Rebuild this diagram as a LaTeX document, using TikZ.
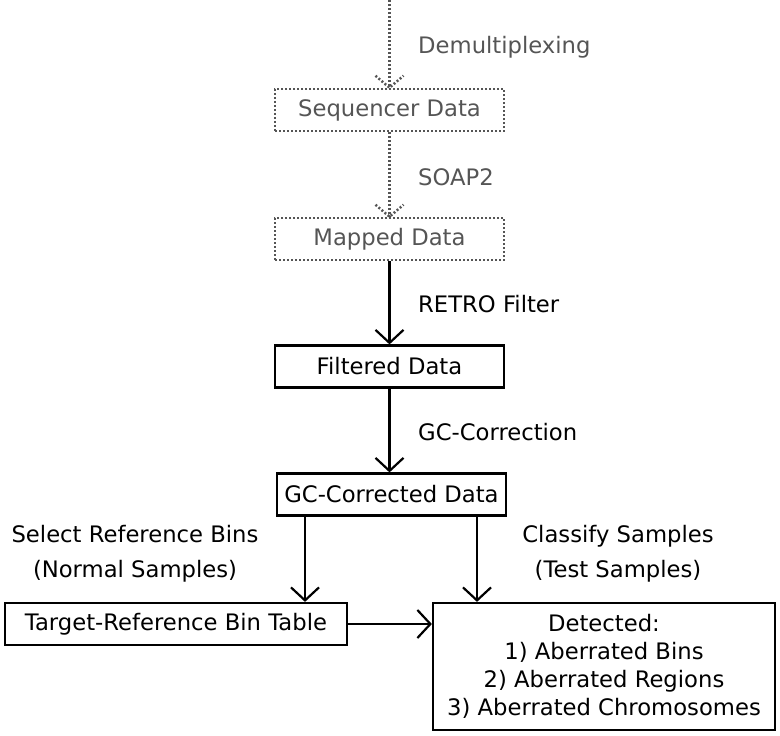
\documentclass[tikz,border=0pt]{standalone}
\usepackage{fontspec}
\setmainfont{DejaVu Sans}
\usetikzlibrary{arrows.meta}
\definecolor{fadegray}{HTML}{555555}
\begin{document}
\begin{tikzpicture}[x=1pt,y=-1pt,
  font=\fontsize{22.7}{28}\selectfont,
  box/.style={draw, line width=2.2pt, minimum width=229pt, minimum height=42pt, inner sep=0pt},
  dotbox/.style={draw=fadegray, text=fadegray, dash pattern=on 2pt off 2pt, line width=2.5pt, minimum width=229pt, minimum height=42pt, inner sep=0pt},
  flow/.style={line width=2.2pt, -{Straight Barb[length=13pt,width=28pt,line width=2.2pt]}},
  dotline/.style={draw=fadegray, dash pattern=on 2pt off 2pt, line width=2.5pt},
  lab/.style={anchor=west, inner sep=0pt},
  graylab/.style={anchor=west, inner sep=0pt, text=fadegray}]
\useasboundingbox (0,0) rectangle (780,736);
\node[dotbox] (seq) at (389.5,110) {Sequencer Data};
\node[dotbox] (map) at (389.5,239) {Mapped Data};
\node[box] (filt) at (389.5,366.5) {Filtered Data};
\node[box] (gc) at (391.5,494.5) {GC-Corrected Data};
\node[box, minimum width=342pt] (tab) at (176,624) {Target-Reference Bin Table};
\node[box, minimum width=342pt, minimum height=127pt, align=center] (det) at (604,666.5)
  {Detected:\\1) Aberrated Bins\\2) Aberrated Regions\\3) Aberrated Chromosomes};
\coordinate (top) at (389.5,0);
\draw[dotline] (top) -- (seq.north);
\draw[dotline] ([shift={(-14,-12)}]seq.north) -- (seq.north) -- ([shift={(14,-12)}]seq.north);
\draw[dotline] (seq.south) -- (map.north);
\draw[dotline] ([shift={(-14,-12)}]map.north) -- (map.north) -- ([shift={(14,-12)}]map.north);
\draw[flow] (map.south) -- (filt.north);
\draw[flow] (filt.south -| map.south) -- (gc.north -| map.south);
\draw[flow] ([xshift=-86.5pt]gc.south) -- ([xshift=-86.5pt]gc.south |- tab.north);
\draw[flow] ([xshift=85.5pt]gc.south) -- ([xshift=85.5pt]gc.south |- det.north);
\draw[flow] (tab.east) -- (tab.east -| det.west);
\node[graylab] (l1) at (418,47) {Demultiplexing};
\node[graylab] (l2) at (418,177) {SOAP2};
\node[lab] (l3) at (418,304) {RETRO Filter};
\node[lab] (l4) at (418,432) {GC-Correction};
\node[align=center, inner sep=0pt, font=\fontsize{22.7}{35}\selectfont] (l5) at (135,554) {Select Reference Bins\\(Normal Samples)};
\node[align=center, inner sep=0pt, font=\fontsize{22.7}{35}\selectfont] (l6) at (618,554) {Classify Samples\\(Test Samples)};
\end{tikzpicture}
\end{document}
